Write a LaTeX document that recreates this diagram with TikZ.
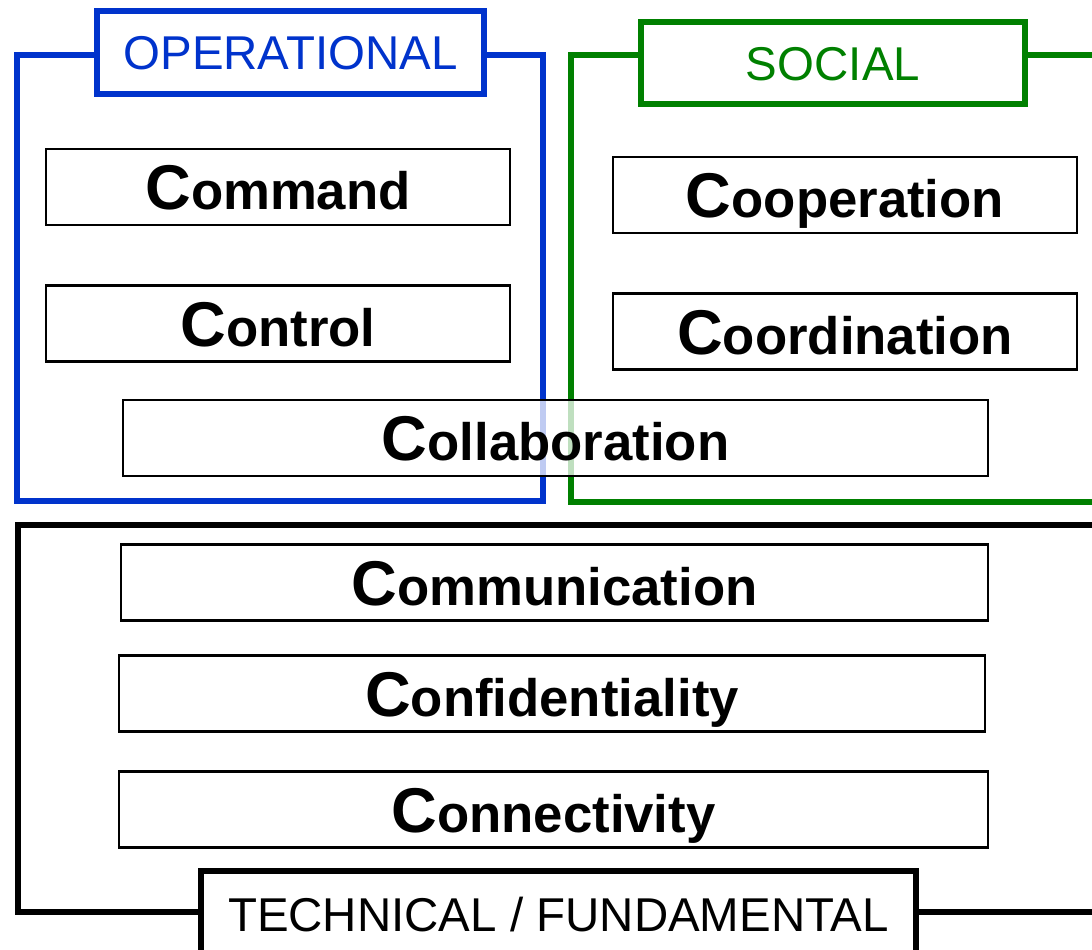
\documentclass[tikz,border=0pt]{standalone}
\usepackage{fontspec}
\setmainfont{Liberation Sans}

\definecolor{opblue}{RGB}{0,51,204}
\definecolor{socgreen}{RGB}{0,128,0}
\newcommand{\bigC}{{\fontsize{18pt}{20pt}\selectfont C}}

\tikzset{
  groupframe/.style={line width=1.6pt},
  heading/.style={draw, fill=white, line width=1.6pt, inner sep=0pt, text height=9.7pt, text depth=0pt, font=\fontsize{13.5pt}{15pt}\selectfont},
  cword/.style={draw, fill=white, line width=0.8pt, minimum height=0.76cm, inner sep=0pt, text height=13pt, text depth=0pt, font=\bfseries\fontsize{15pt}{17pt}\selectfont}
}

\begin{document}
\begin{tikzpicture}
\clip (0,0) rectangle (10.92,-9.49);
% group frames
\draw[groupframe, opblue] (0.17,-0.55) rectangle (5.43,-5.01);
\draw[groupframe, socgreen] (5.71,-0.55) rectangle (11.3,-5.02);
\draw[groupframe] (0.18,-5.25) rectangle (11.3,-9.12);

% headings
\node[heading, draw=opblue, text=opblue, minimum width=3.87cm, minimum height=0.83cm] (operational) at (2.905,-0.525) {OPERATIONAL};
\node[heading, draw=socgreen, text=socgreen, minimum width=3.84cm, minimum height=0.82cm] (social) at (8.33,-0.63) {SOCIAL};
\node[heading, minimum width=7.15cm, minimum height=0.86cm] (technical) at (5.585,-9.14) {TECHNICAL / FUNDAMENTAL};

% operational
\node[cword, minimum width=4.64cm] (command) at (2.78,-1.87) {\bigC ommand};
\node[cword, minimum width=4.64cm] (control) at (2.78,-3.235) {\bigC ontrol};

% social
\node[cword, minimum width=4.64cm] (cooperation) at (8.45,-1.95) {\bigC ooperation};
\node[cword, minimum width=4.64cm] (coordination) at (8.45,-3.315) {\bigC oordination};

% shared by both
\node[cword, fill opacity=0.75, text opacity=1, minimum width=8.65cm] (collaboration) at (5.555,-4.38) {\bigC ollaboration};

% technical / fundamental
\node[cword, minimum width=8.67cm] (communication) at (5.545,-5.825) {\bigC ommunication};
\node[cword, minimum width=8.66cm] (confidentiality) at (5.52,-6.935) {\bigC onfidentiality};
\node[cword, minimum width=8.69cm] (connectivity) at (5.535,-8.095) {\bigC onnectivity};
\end{tikzpicture}
\end{document}
